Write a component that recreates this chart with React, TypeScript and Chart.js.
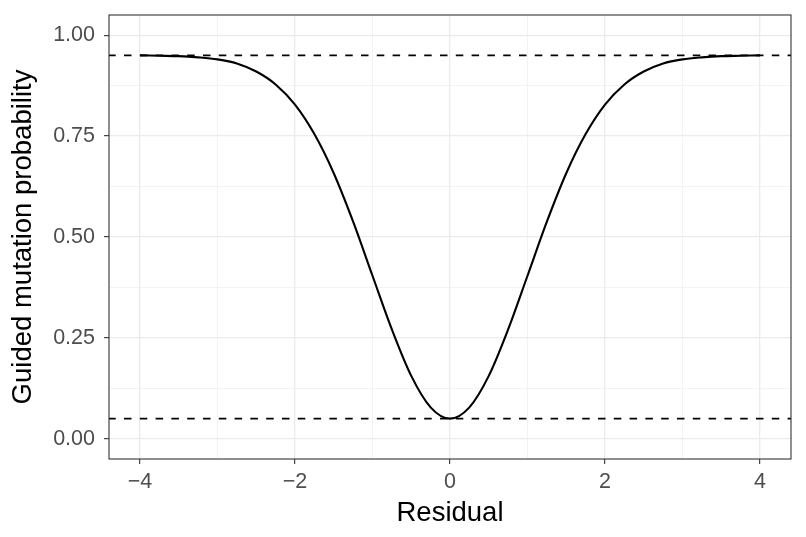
import { useRef, useEffect } from "react";
import Chart from "chart.js/auto";

// values
const residual = [
  -4, -3.75, -3.5, -3.25, -3, -2.75, -2.5, -2.25, -2, -1.75, -1.5, -1.25, -1, -0.75, -0.5, -0.25,
  0, 0.25, 0.5, 0.75, 1, 1.25, 1.5, 1.75, 2, 2.25, 2.5, 2.75, 3, 3.25, 3.5, 3.75, 4,
];
const probability = [
  0.95, 0.949, 0.948, 0.945, 0.94, 0.93, 0.91, 0.878, 0.828, 0.755, 0.658, 0.538, 0.404, 0.271, 0.156, 0.078,
  0.05, 0.078, 0.156, 0.271, 0.404, 0.538, 0.658, 0.755, 0.828, 0.878, 0.91, 0.93, 0.94, 0.945, 0.948, 0.949, 0.95,
];
const boundLevels = [0.05, 0.95];
const xTicks = [-4, -3, -2, -1, 0, 1, 2, 3, 4];
const xLabels = [-4, -2, 0, 2, 4];
const yTicks = [0, 0.125, 0.25, 0.375, 0.5, 0.625, 0.75, 0.875, 1];
const yLabels = [0, 0.25, 0.5, 0.75, 1];

const FONT = "'Liberation Sans', Arial, Helvetica, sans-serif";

const isMajor = (list: number[], v: number) => list.some((l) => Math.abs(l - v) < 1e-9);

const panelPlugin = {
  id: "panel",
  beforeDraw(chart: any) {
    const { ctx, width, height } = chart;
    ctx.save();
    ctx.fillStyle = "#ffffff";
    ctx.fillRect(0, 0, width, height);
    ctx.restore();
  },
  beforeDatasetsDraw(chart: any) {
    const { ctx, chartArea, scales } = chart;
    ctx.save();
    ctx.strokeStyle = "#000000";
    ctx.lineWidth = 1.9;
    ctx.setLineDash([7.5, 8.3]);
    ctx.lineDashOffset = 0.8;
    boundLevels.forEach((v) => {
      const y = scales.y.getPixelForValue(v);
      ctx.beginPath();
      ctx.moveTo(chartArea.left, y);
      ctx.lineTo(chartArea.right, y);
      ctx.stroke();
    });
    ctx.restore();
  },
  afterDraw(chart: any) {
    const { ctx, chartArea } = chart;
    ctx.save();
    ctx.strokeStyle = "#333333";
    ctx.lineWidth = 1.1;
    ctx.strokeRect(chartArea.left, chartArea.top, chartArea.right - chartArea.left, chartArea.bottom - chartArea.top);
    ctx.restore();
  },
};

const ProbChart = () => {
  const canvasRef = useRef(null);

  useEffect(() => {
    //@ts-ignore
    const ctx = canvasRef.current?.getContext("2d");
    const chart = new Chart(ctx, {
      type: "line",
      data: {
        datasets: [
          {
            data: residual.map((r, i) => ({ x: r, y: probability[i] })),
            borderColor: "#000000",
            borderWidth: 2.1,
            pointRadius: 0,
            cubicInterpolationMode: "monotone",
            fill: false,
          },
        ],
      },
      options: {
        animation: false,
        responsive: true,
        maintainAspectRatio: false,
        layout: { padding: { left: 0, right: 15, top: 15, bottom: 0 } },
        plugins: { legend: { display: false }, tooltip: { enabled: false } },
        scales: {
          x: {
            type: "linear",
            min: -4.4,
            max: 4.4,
            afterBuildTicks: (axis: any) => {
              axis.ticks = xTicks.map((v) => ({ value: v }));
            },
            afterFit: (axis: any) => {
              axis.height = 78;
              axis.paddingLeft = 0;
              axis.paddingRight = 0;
            },
            border: { display: false },
            grid: {
              color: "#EBEBEB",
              lineWidth: (c: any) => (isMajor(xLabels, c.tick?.value) ? 1.3 : 0.6),
              tickColor: (c: any) => (isMajor(xLabels, c.tick?.value) ? "#333333" : "rgba(0,0,0,0)"),
              tickLength: 5,
              tickWidth: 1.1,
            },
            ticks: {
              autoSkip: false,
              maxRotation: 0,
              padding: 5,
              color: "#4D4D4D",
              font: { family: FONT, size: 21.5 },
              callback: (v: any) => (isMajor(xLabels, Number(v)) ? String(v).replace("-", "\u2212") : ""),
            },
            title: {
              display: true,
              text: "Residual",
              color: "#000000",
              font: { family: FONT, size: 27.5 },
              padding: { top: 0, bottom: 7 },
            },
          },
          y: {
            type: "linear",
            min: -0.05,
            max: 1.05,
            afterBuildTicks: (axis: any) => {
              axis.ticks = yTicks.map((v) => ({ value: v }));
            },
            afterFit: (axis: any) => {
              axis.width = 109;
              axis.paddingTop = 0;
              axis.paddingBottom = 0;
            },
            border: { display: false },
            grid: {
              color: "#EBEBEB",
              lineWidth: (c: any) => (isMajor(yLabels, c.tick?.value) ? 1.3 : 0.6),
              tickColor: (c: any) => (isMajor(yLabels, c.tick?.value) ? "#333333" : "rgba(0,0,0,0)"),
              tickLength: 5,
              tickWidth: 1.1,
            },
            ticks: {
              autoSkip: false,
              padding: 9,
              color: "#4D4D4D",
              font: { family: FONT, size: 21.5 },
              callback: (v: any) => (isMajor(yLabels, Number(v)) ? Number(v).toFixed(2) : ""),
            },
            title: {
              display: true,
              text: "Guided mutation probability",
              color: "#000000",
              font: { family: FONT, size: 27.5 },
              padding: { top: 7, bottom: 0 },
            },
          },
        },
      },
      plugins: [panelPlugin],
    } as any);

    return () => {
      chart.destroy();
    };
  }, []);

  return (
    <div style={{ position: "absolute", left: 0, top: 0, width: 806, height: 537 }}>
      <canvas ref={canvasRef}></canvas>
    </div>
  );
};

export default function App() {
  return <ProbChart />;
}
